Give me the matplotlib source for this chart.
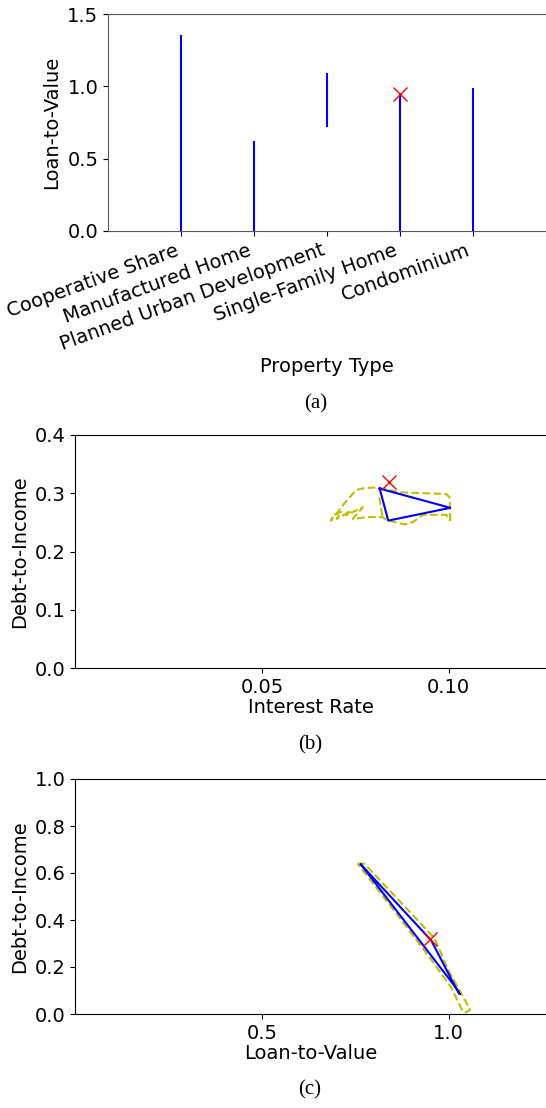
import matplotlib
matplotlib.use("Agg")
import matplotlib.pyplot as plt

# (a) loan-to-value range per property type
property_types = ["Cooperative Share", "Manufactured Home", "Planned Urban Development",
                  "Single-Family Home", "Condominium"]
ltv_low = [0.0, 0.0, 0.72, 0.0, 0.0]
ltv_high = [1.355, 0.62, 1.09, 0.955, 0.99]
ltv_point = 0.948
point_type = 3

# (b) interest rate vs debt-to-income
tri_b_rate = [0.0815, 0.0838, 0.1004, 0.0815]
tri_b_dti = [0.308, 0.253, 0.275, 0.308]
hull_b_rate = [0.1004, 0.1002, 0.0993, 0.0869, 0.0810, 0.0775, 0.0752, 0.0720, 0.0685,
               0.0690, 0.0712, 0.0700, 0.0738, 0.0725, 0.0770, 0.0743, 0.0779,
               0.0823, 0.0837, 0.0860, 0.0881, 0.0904, 0.0930, 0.0993, 0.1004]
hull_b_dti = [0.253, 0.293, 0.2987, 0.3016, 0.310, 0.309, 0.3056, 0.282, 0.253,
              0.262, 0.268, 0.256, 0.270, 0.262, 0.276, 0.256, 0.259,
              0.259, 0.253, 0.250, 0.2464, 0.2504, 0.263, 0.263, 0.253]
hull_b2_rate = [0.0814, 0.0823]
hull_b2_dti = [0.293, 0.259]
point_b = (0.0841, 0.320)

# (c) loan-to-value vs debt-to-income
tri_c_ltv = [0.765, 0.953, 1.018, 1.029, 1.018, 0.765]
tri_c_dti = [0.636, 0.313, 0.114, 0.085, 0.114, 0.636]
hull_c_ltv = [0.756, 0.774, 0.962, 0.997, 1.057, 1.046, 1.0375, 1.006, 0.948, 0.850, 0.756]
hull_c_dti = [0.640, 0.640, 0.322, 0.192, 0.0185, 0.007, 0.010, 0.114, 0.242, 0.448, 0.640]
point_c = (0.950, 0.320)

plt.rcParams["font.size"] = 14

fig = plt.figure(figsize=(5.46, 11.08), dpi=100)
W, H = 546.0, 1108.0

def place(l, t, r, b):
    return fig.add_axes([l / W, 1 - b / H, (r - l) / W, (b - t) / H])

# ---- (a)
ax = place(108, 14, 546, 231)
xs = range(len(property_types))
ax.vlines(xs, ltv_low, ltv_high, colors="b", lw=1.5)
ax.plot(point_type, ltv_point, "rx", ms=10, mew=1)
ax.set_xlim(-1, 5)
ax.set_ylim(0, 1.5)
ax.set_yticks([0.0, 0.5, 1.0, 1.5])
ax.set_xticks(list(xs))
ax.set_xticklabels(property_types, rotation=20, ha="right")
ax.set_ylabel("Loan-to-Value")
ax.set_xlabel("Property Type", labelpad=2)
ax.spines["right"].set_visible(False)
for s in ax.spines.values():
    s.set_color("0.35")
fig.text(316 / W, 1 - 404 / H, "(a)", ha="center", va="center",
         family="Liberation Serif", fontsize=15)

# ---- (b)
ax = place(75, 435, 546, 668)
ax.plot(hull_b_rate, hull_b_dti, color="y", ls="--", lw=1.5)
ax.plot(hull_b2_rate, hull_b2_dti, color="y", ls="--", lw=1.5)
ax.plot(tri_b_rate, tri_b_dti, color="b", lw=1.5)
ax.plot(*point_b, "rx", ms=10, mew=1)
ax.set_xlim(0, 0.126)
ax.set_ylim(0, 0.4)
ax.set_xticks([0.05, 0.10])
ax.set_xticklabels(["0.05", "0.10"])
ax.set_yticks([0.0, 0.1, 0.2, 0.3, 0.4])
ax.set_xlabel("Interest Rate", labelpad=1)
ax.set_ylabel("Debt-to-Income")
ax.spines["right"].set_visible(False)
fig.text(310 / W, 1 - 745 / H, "(b)", ha="center", va="center",
         family="Liberation Serif", fontsize=15)

# ---- (c)
ax = place(75, 779, 546, 1014)
ax.plot(hull_c_ltv, hull_c_dti, color="y", ls="--", lw=1.5)
ax.plot(tri_c_ltv, tri_c_dti, color="b", lw=1.5)
ax.plot(*point_c, "rx", ms=10, mew=1)
ax.set_xlim(0, 1.26)
ax.set_ylim(0, 1.0)
ax.set_xticks([0.5, 1.0])
ax.set_yticks([0.0, 0.2, 0.4, 0.6, 0.8, 1.0])
ax.set_xlabel("Loan-to-Value", labelpad=1)
ax.set_ylabel("Debt-to-Income")
ax.spines["right"].set_visible(False)
fig.text(310 / W, 1 - 1090 / H, "(c)", ha="center", va="center",
         family="Liberation Serif", fontsize=15)

fig.savefig("out.png", dpi=100)
